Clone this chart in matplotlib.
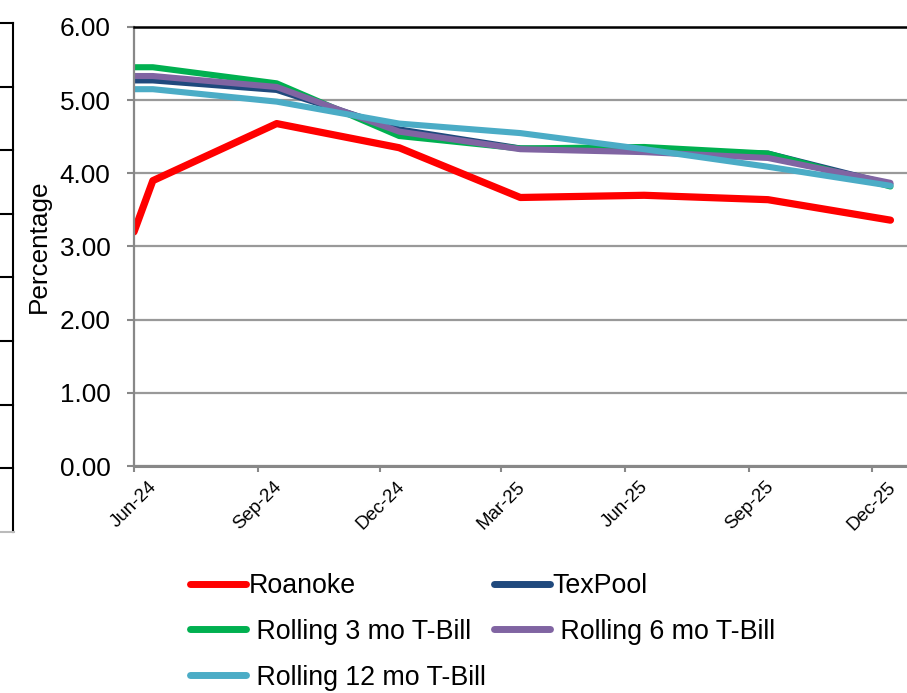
import matplotlib
matplotlib.use("Agg")
import matplotlib.pyplot as plt
from matplotlib.lines import Line2D
import numpy as np

plt.rcParams['font.family'] = ['Liberation Sans', 'DejaVu Sans']

# quarterly yields, %
dates = np.array(['2024-06-01', '2024-06-15', '2024-09-15', '2024-12-15',
                  '2025-03-15', '2025-06-15', '2025-09-15', '2025-12-15'],
                 dtype='datetime64[D]')
roanoke = [3.20, 3.90, 4.68, 4.35, 3.67, 3.70, 3.64, 3.36]
texpool = [5.27, 5.27, 5.14, 4.60, 4.34, 4.31, 4.27, 3.85]
tbill_3mo = [5.45, 5.45, 5.23, 4.51, 4.34, 4.36, 4.27, 3.82]
tbill_6mo = [5.33, 5.33, 5.18, 4.57, 4.33, 4.29, 4.21, 3.87]
tbill_12mo = [5.15, 5.15, 4.98, 4.68, 4.55, 4.33, 4.09, 3.83]

tick_dates = np.array(['2024-06-01', '2024-09-01', '2024-12-01', '2025-03-01',
                       '2025-06-01', '2025-09-01', '2025-12-01'], dtype='datetime64[D]')
tick_labels = ['Jun-24', 'Sep-24', 'Dec-24', 'Mar-25', 'Jun-25', 'Sep-25', 'Dec-25']

W, H = 907, 693
fig = plt.figure(figsize=(W / 100, H / 100), dpi=100)


def fx(px):
    return px / W


def fy(py):
    return 1 - py / H


ax = fig.add_axes([fx(134), fy(466), fx(912 - 134), (466 - 27) / H])

series = [
    ('Roanoke', roanoke, '#FF0000', 5.2),
    ('TexPool', texpool, '#1F497D', 4.4),
    ('Rolling 3 mo T-Bill', tbill_3mo, '#00B050', 4.4),
    ('Rolling 6 mo T-Bill', tbill_6mo, '#8064A2', 4.4),
    ('Rolling 12 mo T-Bill', tbill_12mo, '#4BACC6', 4.4),
]
handles = {}
for name, vals, color, lw in series:
    ln, = ax.plot(dates, vals, color=color, lw=lw, solid_capstyle='round',
                  solid_joinstyle='round', label=name)
    handles[name] = ln

ax.set_xlim(np.datetime64('2024-06-01'), np.datetime64('2025-12-31'))
ax.set_ylim(0, 6)
ax.set_yticks(np.arange(0, 6.01, 1.0))
ax.yaxis.set_major_formatter(plt.FormatStrFormatter('%.2f'))
ax.set_xticks(tick_dates)
ax.set_xticklabels(tick_labels, rotation=45, ha='center', va='top', fontsize=13.5)

ax.grid(axis='y', color='#999999', lw=1.6)
ax.set_axisbelow(True)
ax.tick_params(axis='y', labelsize=18.8, length=5, width=1.5, color='#888888', pad=12)
ax.tick_params(axis='x', length=4, width=1.5, color='#888888', pad=5)

for side in ['left', 'bottom']:
    ax.spines[side].set_color('#888888')
ax.spines['left'].set_linewidth(1.6)
ax.spines['bottom'].set_linewidth(2.2)
ax.spines['top'].set_color('black')
ax.spines['top'].set_linewidth(1.8)
ax.spines['right'].set_visible(False)

ax.set_ylabel('Percentage', fontsize=18.8)
ax.yaxis.set_label_coords(-0.107, 0.5)

# edge of the neighbouring panel on the left
fig.add_artist(Line2D([fx(13), fx(13)], [fy(23), fy(532)], color='black', lw=1.5,
                      transform=fig.transFigure))
for k in range(8):
    yy = 23 + 63.6 * k
    fig.add_artist(Line2D([0, fx(13)], [fy(yy), fy(yy)], color='black', lw=1.5,
                          transform=fig.transFigure))
fig.add_artist(Line2D([0, fx(14)], [fy(532), fy(532)], color='#BBBBBB', lw=1.5,
                      transform=fig.transFigure))

order = ['Roanoke', 'Rolling 3 mo T-Bill', 'Rolling 12 mo T-Bill',
         'TexPool', 'Rolling 6 mo T-Bill']
leg_labels = ['Roanoke', ' Rolling 3 mo T-Bill', ' Rolling 12 mo T-Bill',
              'TexPool', ' Rolling 6 mo T-Bill']
leg_handles = [Line2D([], [], color=handles[n].get_color(), lw=5,
                      solid_capstyle='round') for n in order]
fig.legend(leg_handles, leg_labels, loc='upper left', bbox_to_anchor=(fx(190), fy(573)),
           ncol=2, frameon=False, fontsize=19.3, borderpad=0, borderaxespad=0,
           handlelength=2.1, handletextpad=0.1, columnspacing=0.3,
           labelspacing=0.74)

fig.savefig('out.png', dpi=100)
